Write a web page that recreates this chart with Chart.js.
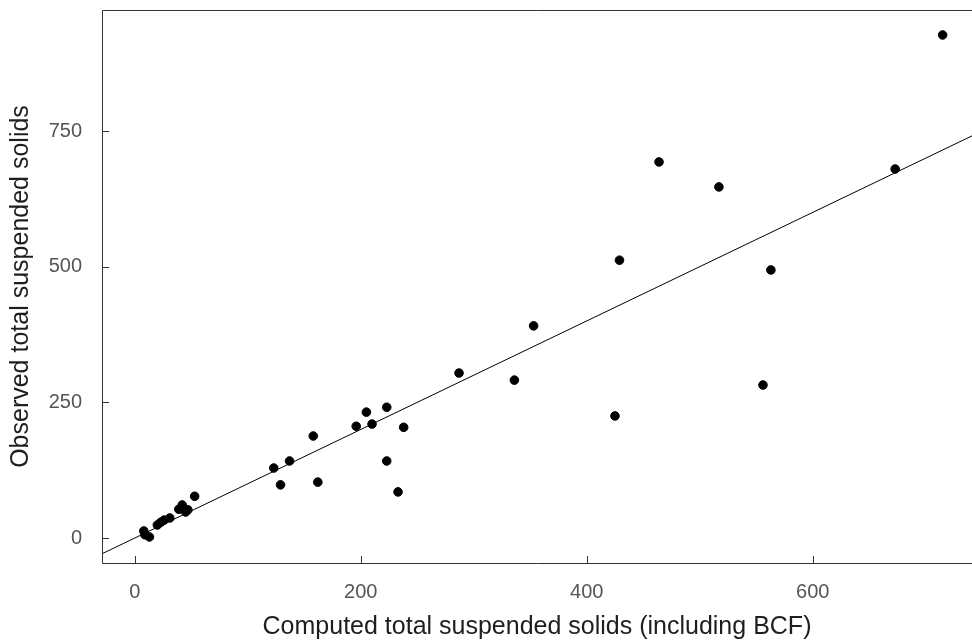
<!DOCTYPE html>
<html>
<head>
<meta charset="utf-8">
<script src="https://cdn.jsdelivr.net/npm/chart.js@4"></script>
<style>
  body { margin: 0; background: #fff; }
</style>
</head>
<body>
<canvas id="tssChart" width="972" height="643"></canvas>
<script>
// computed (x) vs observed (y) total suspended solids
const computedTSS = [715, 673, 464, 517, 429, 563, 353, 287, 336, 425, 556, 238, 223, 205, 196, 210,
                     158, 123, 137, 129, 162, 223, 233, 53, 42, 47, 45, 39, 31, 26, 23, 20, 9, 13, 8];
const observedTSS = [927, 680, 693, 647, 512, 494, 391, 304, 291, 225, 282, 204, 241, 232, 206, 210,
                     188, 129, 142, 98, 103, 142, 85, 77, 61, 52, 48, 53, 37, 33, 29, 24, 6, 2, 13];

const xTickValues = [0, 200, 400, 600];
const yTickValues = [0, 250, 500, 750];
const xRange = [-29, 741];
const yRange = [-46, 973];

// fitted line: observed = intercept + slope * computed
const lineIntercept = 0;
const lineSlope = 1.0;

const points = computedTSS.map((x, i) => ({ x: x, y: observedTSS[i] }));
const fitLine = xRange.map(x => ({ x: x, y: lineIntercept + lineSlope * x }));

const frameColor = '#333333';

// box on left / top / bottom, ticks pointing inwards
const framePlugin = {
  id: 'frame',
  afterDraw(chart) {
    const c = chart.ctx;
    const a = chart.chartArea;
    const xs = chart.scales.x;
    const ys = chart.scales.y;
    c.save();
    c.strokeStyle = frameColor;
    c.lineWidth = 1;
    c.beginPath();
    c.moveTo(a.right + 2, a.top + 0.5);
    c.lineTo(a.left + 0.5, a.top + 0.5);
    c.lineTo(a.left + 0.5, a.bottom + 0.5);
    c.lineTo(a.right + 2, a.bottom + 0.5);
    xTickValues.forEach(v => {
      const px = Math.round(xs.getPixelForValue(v)) + 0.5;
      c.moveTo(px, a.bottom);
      c.lineTo(px, a.bottom - 7);
    });
    yTickValues.forEach(v => {
      const py = Math.round(ys.getPixelForValue(v)) + 0.5;
      c.moveTo(a.left, py);
      c.lineTo(a.left + 7, py);
    });
    c.stroke();
    c.restore();
  }
};

const ctx = document.getElementById('tssChart').getContext('2d');
const tssChart = new Chart(ctx, {
  type: 'scatter',
  data: {
    datasets: [
      {
        label: 'Observations',
        data: points,
        backgroundColor: '#000',
        borderColor: '#000',
        pointRadius: 4.3,
        pointHoverRadius: 4.3
      },
      {
        label: 'Fit',
        type: 'line',
        data: fitLine,
        borderColor: '#000',
        borderWidth: 1,
        pointRadius: 0,
        fill: false
      }
    ]
  },
  options: {
    responsive: false,
    animation: false,
    layout: { autoPadding: false, padding: { top: 10, right: 0, bottom: 0, left: 0 } },
    plugins: {
      legend: { display: false },
      tooltip: { enabled: false }
    },
    scales: {
      x: {
        type: 'linear',
        min: xRange[0],
        max: xRange[1],
        afterBuildTicks: scale => { scale.ticks = xTickValues.map(v => ({ value: v })); },
        afterFit: scale => {
          scale.height = 80;
          scale.paddingLeft = 0;
          scale.paddingRight = 0;
        },
        grid: { display: false, drawTicks: false },
        border: { display: false },
        ticks: {
          padding: 17,
          color: '#555',
          font: { family: "'Liberation Sans', Arial, sans-serif", size: 20 }
        },
        title: {
          display: true,
          text: 'Computed total suspended solids (including BCF)',
          color: '#1e1e1e',
          padding: { top: 0, bottom: 1 },
          font: { family: "'Liberation Sans', Arial, sans-serif", size: 25 }
        }
      },
      y: {
        type: 'linear',
        min: yRange[0],
        max: yRange[1],
        afterBuildTicks: scale => { scale.ticks = yTickValues.map(v => ({ value: v })); },
        afterFit: scale => {
          scale.width = 102;
          scale.paddingTop = 0;
          scale.paddingBottom = 0;
        },
        grid: { display: false, drawTicks: false },
        border: { display: false },
        ticks: {
          padding: 20,
          color: '#555',
          font: { family: "'Liberation Sans', Arial, sans-serif", size: 20 }
        },
        title: {
          display: true,
          text: 'Observed total suspended solids',
          color: '#1e1e1e',
          padding: { top: 6, bottom: 0 },
          font: { family: "'Liberation Sans', Arial, sans-serif", size: 25 }
        }
      }
    }
  },
  plugins: [framePlugin]
});
</script>
</body>
</html>
